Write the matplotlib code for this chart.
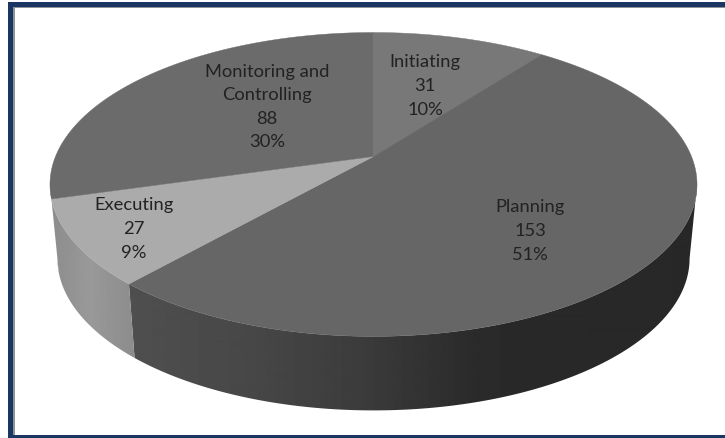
import numpy as np
import matplotlib
matplotlib.use("Agg")
import matplotlib.pyplot as plt
from matplotlib.patches import PathPatch, Rectangle
from matplotlib.path import Path

# process group counts
categories = ["Initiating", "Planning", "Executing", "Monitoring and\nControlling"]
counts = [31, 153, 27, 88]
percents = ["10%", "51%", "9%", "30%"]

top_colors = ["#787878", "#666666", "#ababab", "#6b6b6b"]
label_xy = [(425, 86), (530, 231), (134, 229), (267, 107)]

# grey level of the side wall along x, one ramp per slice
wall_ramps = {
    1: ([130, 250, 360, 480, 700], [0.31, 0.28, 0.235, 0.165, 0.155]),
    2: ([50, 90, 135], [0.55, 0.60, 0.55]),
    3: ([45, 140], [0.55, 0.55]),
}

# projected disc
cx, cy = 373.5, 157.5
rim_a, rim_b, persp = 318, 146.8, 0.184
depth = 74


def top_pt(t):
    d = 1 + persp * np.cos(t)
    return cx + rim_a * np.sin(t) / d, cy - rim_b * np.cos(t) / d


def bottom_pt(t):
    # lower rim sits a little narrower than the upper one
    d = 1 + persp * np.cos(t)
    return cx + 0.977 * rim_a * np.sin(t) / d, cy + depth - rim_b * np.cos(t) / d


plt.rcParams["font.family"] = ["Lato", "DejaVu Sans"]
fig = plt.figure(figsize=(7.25, 4.39), dpi=100)
ax = fig.add_axes([0, 0, 1, 1])
ax.set_xlim(0, 725)
ax.set_ylim(439, 0)
ax.axis("off")

# frame, open on the right
ax.add_patch(Rectangle((8, 3), 717, 436, fc="#1a3764", ec="none"))
ax.add_patch(Rectangle((13, 8), 712, 428, fc="#8f9296", ec="none"))
ax.add_patch(Rectangle((15, 9), 710, 427, fc="white", ec="none"))

edges = np.radians(np.cumsum([0] + counts) / sum(counts) * 360)

# only the front of the rim shows, between the two tangent points
rim_start = np.arccos(-persp)
rim_end = 2 * np.pi - rim_start

# side wall: horizontal gradient clipped to each slice's outline
for i, (xp, vals) in wall_ramps.items():
    a, b = max(edges[i], rim_start), min(edges[i + 1], rim_end)
    ts = np.linspace(a, b, 200)
    tx, ty = top_pt(ts)
    bx, by = bottom_pt(ts[::-1])
    verts = np.column_stack([np.r_[tx, bx], np.r_[ty, by]])
    outline = PathPatch(Path(np.vstack([verts, verts[0]]), closed=True),
                        fc="none", ec="none", transform=ax.transData)
    ax.add_patch(outline)
    xs = np.arange(20, 710)
    shade = np.interp(xs, xp, vals)[None, :]
    im = ax.imshow(shade, cmap="gray", vmin=0, vmax=1, aspect="auto",
                   extent=(20, 710, 430, 20), zorder=2, interpolation="bilinear")
    im.set_clip_path(outline)
ax.set_xlim(0, 725)
ax.set_ylim(439, 0)

# top face
for i in range(len(counts)):
    ts = np.linspace(edges[i], edges[i + 1], 200)
    xs, ys = top_pt(ts)
    ax.fill(np.r_[cx, xs], np.r_[cy, ys], color=top_colors[i], lw=0.3, zorder=3)

for i, name in enumerate(categories):
    txt = f"{name}\n{counts[i]}\n{percents[i]}"
    ax.text(label_xy[i][0], label_xy[i][1], txt, ha="center", va="center",
            fontsize=13.2, color="#222222", linespacing=1.58, zorder=4)

fig.savefig("out.png", dpi=100)
